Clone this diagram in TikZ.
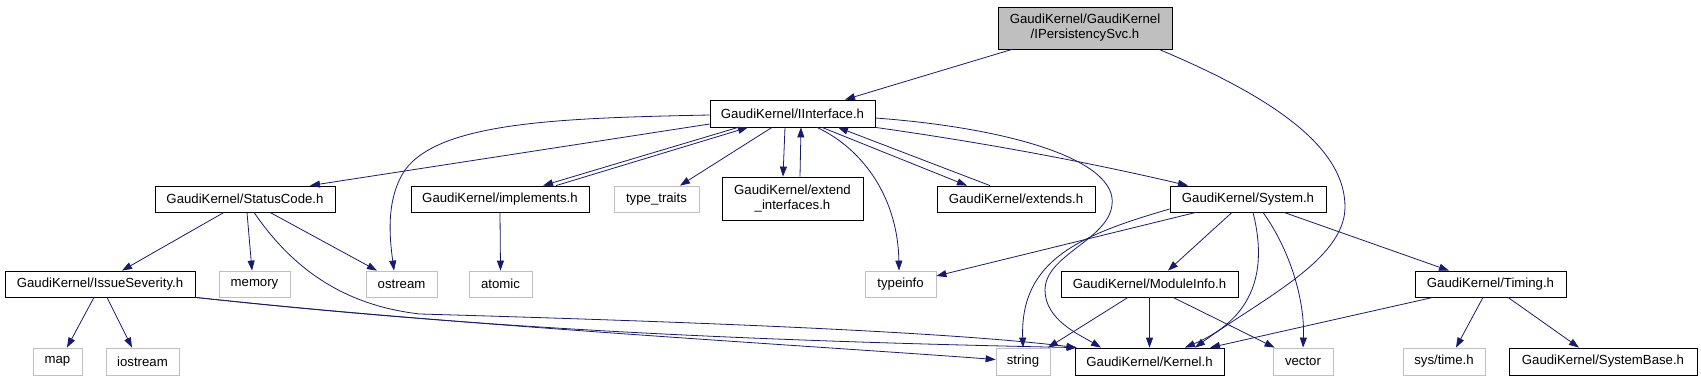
\documentclass[tikz,border=0pt]{standalone}
\usepackage{fontspec}
\setmainfont{Liberation Sans}
\usetikzlibrary{arrows.meta}
\definecolor{edgeblue}{RGB}{25,25,112}
\definecolor{boxgray}{RGB}{191,191,191}
\begin{document}
\begin{tikzpicture}[x=1pt,y=-1pt,
  every node/.style={font=\fontsize{13.2}{15}\selectfont, inner sep=0pt, align=center, minimum height=26pt},
  gk/.style={draw=black, line width=0.8pt},
  sysh/.style={draw=boxgray, line width=0.8pt},
  rootbox/.style={draw=black, fill=boxgray, line width=0.8pt},
  arr/.style={draw=edgeblue, line width=0.8pt, -{Triangle[length=10pt,width=7pt]}}]
\useasboundingbox (0,0) rectangle (1701,381);
% nodes
\node[rootbox, minimum width=174pt, minimum height=42pt] (root) at (1085,28) {GaudiKernel/GaudiKernel\\/IPersistencySvc.h};
\node[gk, minimum width=165pt, minimum height=27pt] (ii) at (792.5,113.5) {GaudiKernel/IInterface.h};
\node[gk, minimum width=180pt] (sc) at (245,199) {GaudiKernel/StatusCode.h};
\node[gk, minimum width=178pt] (impl) at (500,199) {GaudiKernel/implements.h};
\node[sysh, minimum width=85pt] (tt) at (656.5,199) {type\_traits};
\node[gk, minimum width=141pt, minimum height=43pt] (ext) at (792.5,198.5) {GaudiKernel/extend\\\_interfaces.h};
\node[gk, minimum width=158pt] (exts) at (1016,199) {GaudiKernel/extends.h};
\node[gk, minimum width=156pt] (sys) at (1248,199) {GaudiKernel/System.h};
\node[gk, minimum width=190pt] (is) at (100,284) {GaudiKernel/IssueSeverity.h};
\node[sysh, minimum width=71pt] (mem) at (254.5,284) {memory};
\node[sysh, minimum width=71pt] (ost) at (401.5,284) {ostream};
\node[sysh, minimum width=63pt] (atom) at (500.5,284) {atomic};
\node[sysh, minimum width=71pt] (ti) at (900.5,284) {typeinfo};
\node[gk, minimum width=177pt] (mi) at (1149.5,284) {GaudiKernel/ModuleInfo.h};
\node[gk, minimum width=151pt] (tim) at (1490.5,284) {GaudiKernel/Timing.h};
\node[sysh, minimum width=49pt, minimum height=27pt] (map) at (57.5,361.5) {map};
\node[sysh, minimum width=73pt, minimum height=27pt] (ios) at (142.5,361.5) {iostream};
\node[sysh, minimum width=54pt, minimum height=27pt] (str) at (1023,361.5) {string};
\node[gk, minimum width=149pt, minimum height=27pt] (ker) at (1149.5,361.5) {GaudiKernel/Kernel.h};
\node[sysh, minimum width=60pt, minimum height=27pt] (vec) at (1303,361.5) {vector};
\node[sysh, minimum width=82pt, minimum height=27pt] (st) at (1444,361.5) {sys/time.h};
\node[gk, minimum width=188pt, minimum height=27pt] (sb) at (1603,361.5) {GaudiKernel/SystemBase.h};
% edges
\draw[arr] ([xshift=-73pt]root.south) -- ([xshift=52.5pt]ii.north);
\draw[arr] ([xshift=74pt]root.south) .. controls (1280,100) and (1345,150) .. (1345,207) .. controls (1345,260) and (1260,300) .. ([xshift=45.5pt]ker.north);
\draw[arr] ([yshift=-10.5pt]ii.west) -- ([xshift=65pt]sc.north);
\draw[arr] ([yshift=-1.5pt]ii.west) .. controls (560,118) and (440,122) .. (405,170) .. controls (385,200) and (390,240) .. ([xshift=-7.5pt]ost.north);
\draw[arr] ([xshift=-54.5pt]ii.south) -- ([xshift=43pt]impl.north);
\draw[arr] ([xshift=56pt]impl.north) -- ([xshift=-44.5pt]ii.south);
\draw[arr] ([xshift=-20.5pt]ii.south) -- ([xshift=23.5pt]tt.north);
\draw[arr] ([xshift=-7.5pt]ii.south) -- ([xshift=-9.5pt]ext.north);
\draw[arr] ([xshift=7.5pt]ext.north) -- ([xshift=8.5pt]ii.south);
\draw[arr] ([xshift=24.5pt]ii.south) .. controls (865,150) and (898,200) .. ([xshift=-1.5pt]ti.north);
\draw[arr] ([xshift=29.5pt]ii.south) -- ([xshift=-49pt]exts.north);
\draw[arr] ([xshift=-26pt]exts.north) -- ([xshift=45.5pt]ii.south);
\draw[arr] (ii.south east) .. controls (1000,145) and (1100,165) .. ([xshift=-60pt]sys.north);
\draw[arr] ([yshift=-4.5pt]ii.east) .. controls (1010,128) and (1118,160) .. (1112,205) .. controls (1108,240) and (1045,255) .. (1045,290) .. controls (1045,320) and (1080,335) .. ([xshift=-48.5pt]ker.north);
\draw[arr] ([xshift=-21pt]sc.south) -- ([xshift=22pt]is.north);
\draw[arr] ([xshift=2pt]sc.south) -- ([xshift=-2.5pt]mem.north);
\draw[arr] ([xshift=25pt]sc.south) -- ([xshift=-24.5pt]ost.north);
\draw[arr] ([xshift=9pt]sc.south) .. controls (290,265) and (340,305) .. (420,314) .. controls (700,322) and (950,332) .. ([xshift=2pt]ker.north west);
\draw[arr] (is.south east) .. controls (450,325) and (700,340) .. ([xshift=2pt]ker.north west);
\draw[arr] (is.south east) .. controls (450,325) and (800,345) .. ([yshift=2pt]str.west);
\draw[arr] ([xshift=-6pt]is.south) -- ([xshift=9.5pt]map.north);
\draw[arr] ([xshift=7pt]is.south) -- ([xshift=-10.5pt]ios.north);
\draw[arr] (impl.south) -- (atom.north);
\draw[arr] ([xshift=-52pt]sys.south) -- ([yshift=8pt]ti.east);
\draw[arr] ([yshift=-10pt]sys.west) .. controls (1080,235) and (1020,260) .. (str.north);
\draw[arr] ([xshift=-16pt]sys.south) -- ([xshift=18.5pt]mi.north);
\draw[arr] ([xshift=5pt]sys.south) .. controls (1265,260) and (1262,315) .. ([xshift=35.5pt]ker.north);
\draw[arr] ([xshift=15pt]sys.south) .. controls (1290,250) and (1305,300) .. (vec.north);
\draw[arr] ([xshift=36pt]sys.south) -- ([xshift=-41.5pt]tim.north);
\draw[arr] ([xshift=-21.5pt]mi.south) -- ([xshift=25pt]str.north);
\draw[arr] (mi.south) -- (ker.north);
\draw[arr] ([xshift=23.5pt]mi.south) -- ([xshift=2pt]vec.north west);
\draw[arr] ([xshift=-57.5pt]tim.south) -- ([xshift=60.5pt]ker.north);
\draw[arr] ([xshift=-7.5pt]tim.south) -- ([xshift=12pt]st.north);
\draw[arr] ([xshift=17.5pt]tim.south) -- ([xshift=-24pt]sb.north);
\end{tikzpicture}
\end{document}
